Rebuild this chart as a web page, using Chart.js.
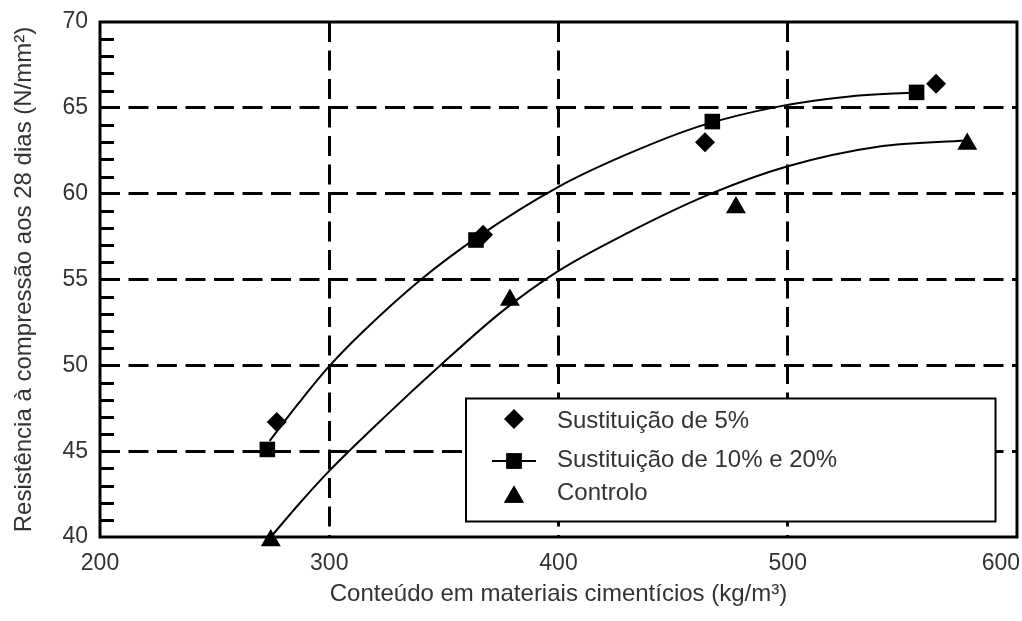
<!DOCTYPE html>
<html>
<head>
<meta charset="utf-8">
<script src="https://cdn.jsdelivr.net/npm/chart.js@4.4.1/dist/chart.umd.min.js"></script>
<style>
  html, body { margin: 0; padding: 0; background: #fff; overflow: hidden; }
  #wrap { width: 1022px; height: 621px; }
</style>
</head>
<body>
<div id="wrap"><canvas id="chart" width="1022" height="621"></canvas></div>
<script>
// Axis ticks
const xTicks = [200, 300, 400, 500, 600];
const yTicks = [40, 45, 50, 55, 60, 65, 70];

// Measured series: cementitious content (kg/m3) vs 28-day strength (N/mm2)
const sub5X = [277.1, 367.1, 463.9, 564.7];
const sub5Y = [46.7, 57.6, 63.0, 66.4];

const sub1020X = [273.0, 364.0, 467.1, 556.2];
const sub1020Y = [45.1, 57.3, 64.2, 65.9];

const controloX = [274.5, 378.8, 477.4, 578.3];
const controloY = [39.8, 53.8, 59.2, 62.9];

// Trend curves
const upperCurveX = [274, 287, 300, 315, 340, 365, 400, 430, 462, 497, 526, 556];
const upperCurveY = [45.6, 47.85, 49.95, 52.0, 55.0, 57.5, 60.4, 62.3, 63.95, 65.1, 65.65, 65.9];

const lowerCurveX = [274.5, 287, 300, 325, 348.5, 375, 400, 430, 466.5, 500, 540, 578];
const lowerCurveY = [40.0, 41.95, 43.85, 47.1, 50.0, 53.1, 55.5, 57.7, 60.0, 61.6, 62.75, 63.1];

const seriesLabels = ['Sustituição de 5%', 'Sustituição de 10% e 20%', 'Controlo'];

const pts = (xs, ys) => xs.map((x, i) => ({ x: x, y: ys[i] }));

const TEXT = '#333';
const FONT = "'Liberation Sans', Arial, Helvetica, sans-serif";

// Frame around the plot and the small inward ticks on the left axis
const framePlugin = {
  id: 'frame',
  beforeDraw(chart) {
    // keep the last x label inside the canvas by right-aligning it on its tick
    const xs = chart.scales.x;
    const items = xs.getLabelItems(chart.chartArea);
    const last = items[items.length - 1];
    if (last && !last._aligned) {
      last.options.textAlign = 'right';
      last.options.translation[0] += 3;
      last._aligned = true;
    }
  },
  beforeDatasetsDraw(chart) {
    const { ctx, chartArea: a, scales } = chart;
    const y = scales.y;
    ctx.save();
    ctx.strokeStyle = '#000';
    ctx.lineWidth = 3;
    ctx.lineCap = 'butt';
    for (let v = y.min + 1; v < y.max; v++) {
      if (v % 5 === 0) continue;
      const py = Math.round(y.getPixelForValue(v)) + 0.5;
      ctx.beginPath();
      ctx.moveTo(a.left, py);
      ctx.lineTo(a.left + 14, py);
      ctx.stroke();
    }
    ctx.strokeRect(a.left, a.top, a.right - a.left, a.bottom - a.top);
    ctx.restore();
  }
};

// Boxed legend placed inside the plot area
const boxLegendPlugin = {
  id: 'boxLegend',
  afterDatasetsDraw(chart, args, opts) {
    const { ctx } = chart;
    const b = opts.box;
    ctx.save();
    ctx.fillStyle = '#fff';
    ctx.fillRect(b.left, b.top, b.right - b.left, b.bottom - b.top);
    ctx.strokeStyle = '#000';
    ctx.lineWidth = 2;
    ctx.strokeRect(b.left, b.top, b.right - b.left, b.bottom - b.top);

    opts.rows.forEach(row => {
      const ds = chart.data.datasets[row.dataset];
      if (row.line) {
        ctx.strokeStyle = '#000';
        ctx.lineWidth = 2;
        ctx.beginPath();
        ctx.moveTo(opts.markerX - 22, row.markerY);
        ctx.lineTo(opts.markerX + 22, row.markerY);
        ctx.stroke();
      }
      Chart.helpers.drawPoint(ctx, {
        pointStyle: ds.pointStyle,
        radius: ds.pointRadius,
        borderWidth: 0,
        rotation: 0
      }, opts.markerX, row.markerY);
      ctx.fillStyle = '#000';
      ctx.fill();

      ctx.fillStyle = TEXT;
      ctx.font = '24px ' + FONT;
      ctx.textAlign = 'left';
      ctx.textBaseline = 'middle';
      ctx.fillText(ds.label, opts.textX, row.textY);
    });
    ctx.restore();
  }
};

const edgeTransparent = (axisTicks) => (ctx) => {
  const v = ctx.tick ? ctx.tick.value : null;
  return (v === axisTicks[0] || v === axisTicks[axisTicks.length - 1]) ? 'rgba(0,0,0,0)' : '#000';
};

new Chart(document.getElementById('chart'), {
  type: 'scatter',
  data: {
    datasets: [
      {
        label: seriesLabels[0],
        data: pts(sub5X, sub5Y),
        pointStyle: 'rectRot',
        pointRadius: 10,
        backgroundColor: '#000',
        borderColor: '#000',
        borderWidth: 0,
        clip: false,
        order: 0
      },
      {
        label: seriesLabels[1],
        data: pts(sub1020X, sub1020Y),
        pointStyle: 'rect',
        pointRadius: 11,
        backgroundColor: '#000',
        borderColor: '#000',
        borderWidth: 0,
        clip: false,
        order: 0
      },
      {
        label: seriesLabels[2],
        data: pts(controloX, controloY),
        pointStyle: 'triangle',
        pointRadius: 11.5,
        backgroundColor: '#000',
        borderColor: '#000',
        borderWidth: 0,
        clip: false,
        order: 0
      },
      {
        label: seriesLabels[1] + ' (curva)',
        data: pts(upperCurveX, upperCurveY),
        showLine: true,
        pointRadius: 0,
        borderColor: '#000',
        borderWidth: 2,
        cubicInterpolationMode: 'monotone',
        fill: false,
        order: 1
      },
      {
        label: seriesLabels[2] + ' (curva)',
        data: pts(lowerCurveX, lowerCurveY),
        showLine: true,
        pointRadius: 0,
        borderColor: '#000',
        borderWidth: 2,
        cubicInterpolationMode: 'monotone',
        fill: false,
        clip: false,
        order: 1
      }
    ]
  },
  options: {
    responsive: false,
    animation: false,
    events: [],
    layout: { autoPadding: false, padding: { top: 22, right: 5, left: 0, bottom: 0 } },
    plugins: {
      legend: { display: false },
      tooltip: { enabled: false },
      boxLegend: {
        box: { left: 466, top: 398.5, right: 995.5, bottom: 521.5 },
        markerX: 514,
        textX: 557,
        rows: [
          { dataset: 0, markerY: 419, textY: 421.5 },
          { dataset: 1, markerY: 461, textY: 460, line: true },
          { dataset: 2, markerY: 497, textY: 493.5 }
        ]
      }
    },
    scales: {
      x: {
        type: 'linear',
        min: xTicks[0],
        max: xTicks[xTicks.length - 1],
        afterBuildTicks: (scale) => { scale.ticks = xTicks.map(v => ({ value: v })); },
        afterFit: (scale) => { scale.height = 84; scale.paddingLeft = 0; scale.paddingRight = 0; },
        ticks: {
          padding: 13,
          maxRotation: 0,
          color: TEXT,
          font: { family: FONT, size: 23 }
        },
        grid: { color: edgeTransparent(xTicks), lineWidth: 3, drawTicks: false },
        border: { display: false, dash: [20, 8.5] },
        title: {
          display: true,
          text: 'Conteúdo em materiais cimentícios (kg/m³)',
          color: TEXT,
          font: { family: FONT, size: 24 },
          padding: { top: 0, bottom: 12 }
        }
      },
      y: {
        type: 'linear',
        min: yTicks[0],
        max: yTicks[yTicks.length - 1],
        afterBuildTicks: (scale) => { scale.ticks = yTicks.map(v => ({ value: v })); },
        afterFit: (scale) => { scale.width = 100; scale.paddingTop = 0; scale.paddingBottom = 0; },
        ticks: {
          padding: 12,
          color: TEXT,
          font: { family: FONT, size: 23 }
        },
        grid: { color: edgeTransparent(yTicks), lineWidth: 3, drawTicks: false },
        border: { display: false, dash: [20, 8.5] },
        title: {
          display: true,
          text: 'Resistência à compressão aos 28 dias (N/mm²)',
          color: TEXT,
          font: { family: FONT, size: 24 },
          padding: { top: 10, bottom: 0 }
        }
      }
    }
  },
  plugins: [framePlugin, boxLegendPlugin]
});
</script>
</body>
</html>
